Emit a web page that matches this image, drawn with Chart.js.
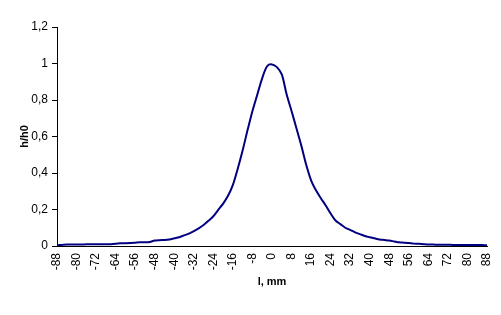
<!DOCTYPE html>
<html>
<head>
<meta charset="utf-8">
<script src="https://cdn.jsdelivr.net/npm/chart.js@4.4.0/dist/chart.umd.min.js"></script>
<style>
  body { margin: 0; background: #fff; }
  canvas { display: block; }
</style>
</head>
<body>
<canvas id="grafico" width="501" height="315"></canvas>
<script>
// posição l (mm) e altura relativa h/h0
const posicoes = [
  -88, -86, -84, -82, -80, -78, -76, -74, -72, -70, -68, -66, -64, -62, -60, -58, -56, -54, -52, -50,
  -48, -46, -44, -42, -40, -38, -36, -34, -32, -30, -28, -26, -24, -22, -20, -18, -16, -14, -12, -10,
  -8, -6, -4, -2, 0, 2, 4, 6, 8, 10, 12, 14, 16, 18, 20, 22, 24, 26, 28, 30,
  32, 34, 36, 38, 40, 42, 44, 46, 48, 50, 52, 54, 56, 58, 60, 62, 64, 66, 68, 70,
  72, 74, 76, 78, 80, 82, 84, 86, 88
];
const alturas = [
  0.004, 0.006, 0.008, 0.008, 0.008, 0.008, 0.009, 0.009, 0.009, 0.010, 0.010, 0.010, 0.012, 0.015, 0.015, 0.016, 0.018, 0.020, 0.020, 0.022,
  0.030, 0.032, 0.033, 0.036, 0.042, 0.048, 0.058, 0.068, 0.082, 0.097, 0.115, 0.138, 0.163, 0.198, 0.232, 0.275, 0.335, 0.425, 0.525, 0.635,
  0.740, 0.830, 0.920, 0.985, 0.995, 0.980, 0.940, 0.830, 0.740, 0.645, 0.550, 0.445, 0.360, 0.305, 0.262, 0.222, 0.178, 0.140, 0.120, 0.100,
  0.088, 0.075, 0.065, 0.055, 0.048, 0.042, 0.036, 0.033, 0.030, 0.025, 0.020, 0.018, 0.016, 0.013, 0.012, 0.010, 0.008, 0.008, 0.007, 0.007,
  0.007, 0.006, 0.006, 0.006, 0.006, 0.006, 0.006, 0.005, 0.004
];
const passoX = 8;
const limitesX = [-88, 88];
const limitesY = [0, 1.2];
const passoY = 0.2;

const fonteEixo = { family: "'Liberation Sans Narrow', 'Liberation Sans', Arial, sans-serif", size: 12 };
const fonteTitulo = { family: "'Liberation Sans Narrow', 'Liberation Sans', Arial, sans-serif", size: 11, weight: 'bold' };

const ctx = document.getElementById('grafico').getContext('2d');
const grafico = new Chart(ctx, {
  type: 'line',
  data: {
    datasets: [{
      data: posicoes.map((l, i) => ({ x: l, y: alturas[i] })),
      borderColor: '#000080',
      borderWidth: 2,
      pointRadius: 0,
      tension: 0.3,
      fill: false
    }]
  },
  options: {
    responsive: false,
    animation: false,
    layout: { padding: { top: 27, right: 14, left: 0, bottom: 0 } },
    plugins: { legend: { display: false }, tooltip: { enabled: false } },
    scales: {
      x: {
        type: 'linear',
        min: limitesX[0],
        max: limitesX[1],
        afterFit: s => { s.height = 69; s.paddingLeft = 0; s.paddingRight = 0; },
        ticks: {
          stepSize: passoX,
          minRotation: 90,
          maxRotation: 90,
          padding: 7,
          color: '#000',
          font: fonteEixo
        },
        grid: { drawOnChartArea: false, drawTicks: false },
        border: { color: '#000', width: 1 },
        title: {
          display: true,
          text: 'l, mm',
          color: '#000',
          font: fonteTitulo,
          padding: { top: 0, bottom: 26 }
        }
      },
      y: {
        min: limitesY[0],
        max: limitesY[1],
        afterFit: s => { s.width = 57; },
        ticks: {
          stepSize: passoY,
          padding: 4,
          color: '#000',
          font: fonteEixo,
          callback: v => String(Math.round(v * 10) / 10).replace('.', ',')
        },
        grid: { drawOnChartArea: false, drawTicks: true, tickLength: 5, color: '#000' },
        border: { color: '#000', width: 1 },
        title: {
          display: true,
          text: 'h/h0',
          color: '#000',
          font: fonteTitulo,
          padding: { top: 18, bottom: 0 }
        }
      }
    }
  }
});
</script>
</body>
</html>
